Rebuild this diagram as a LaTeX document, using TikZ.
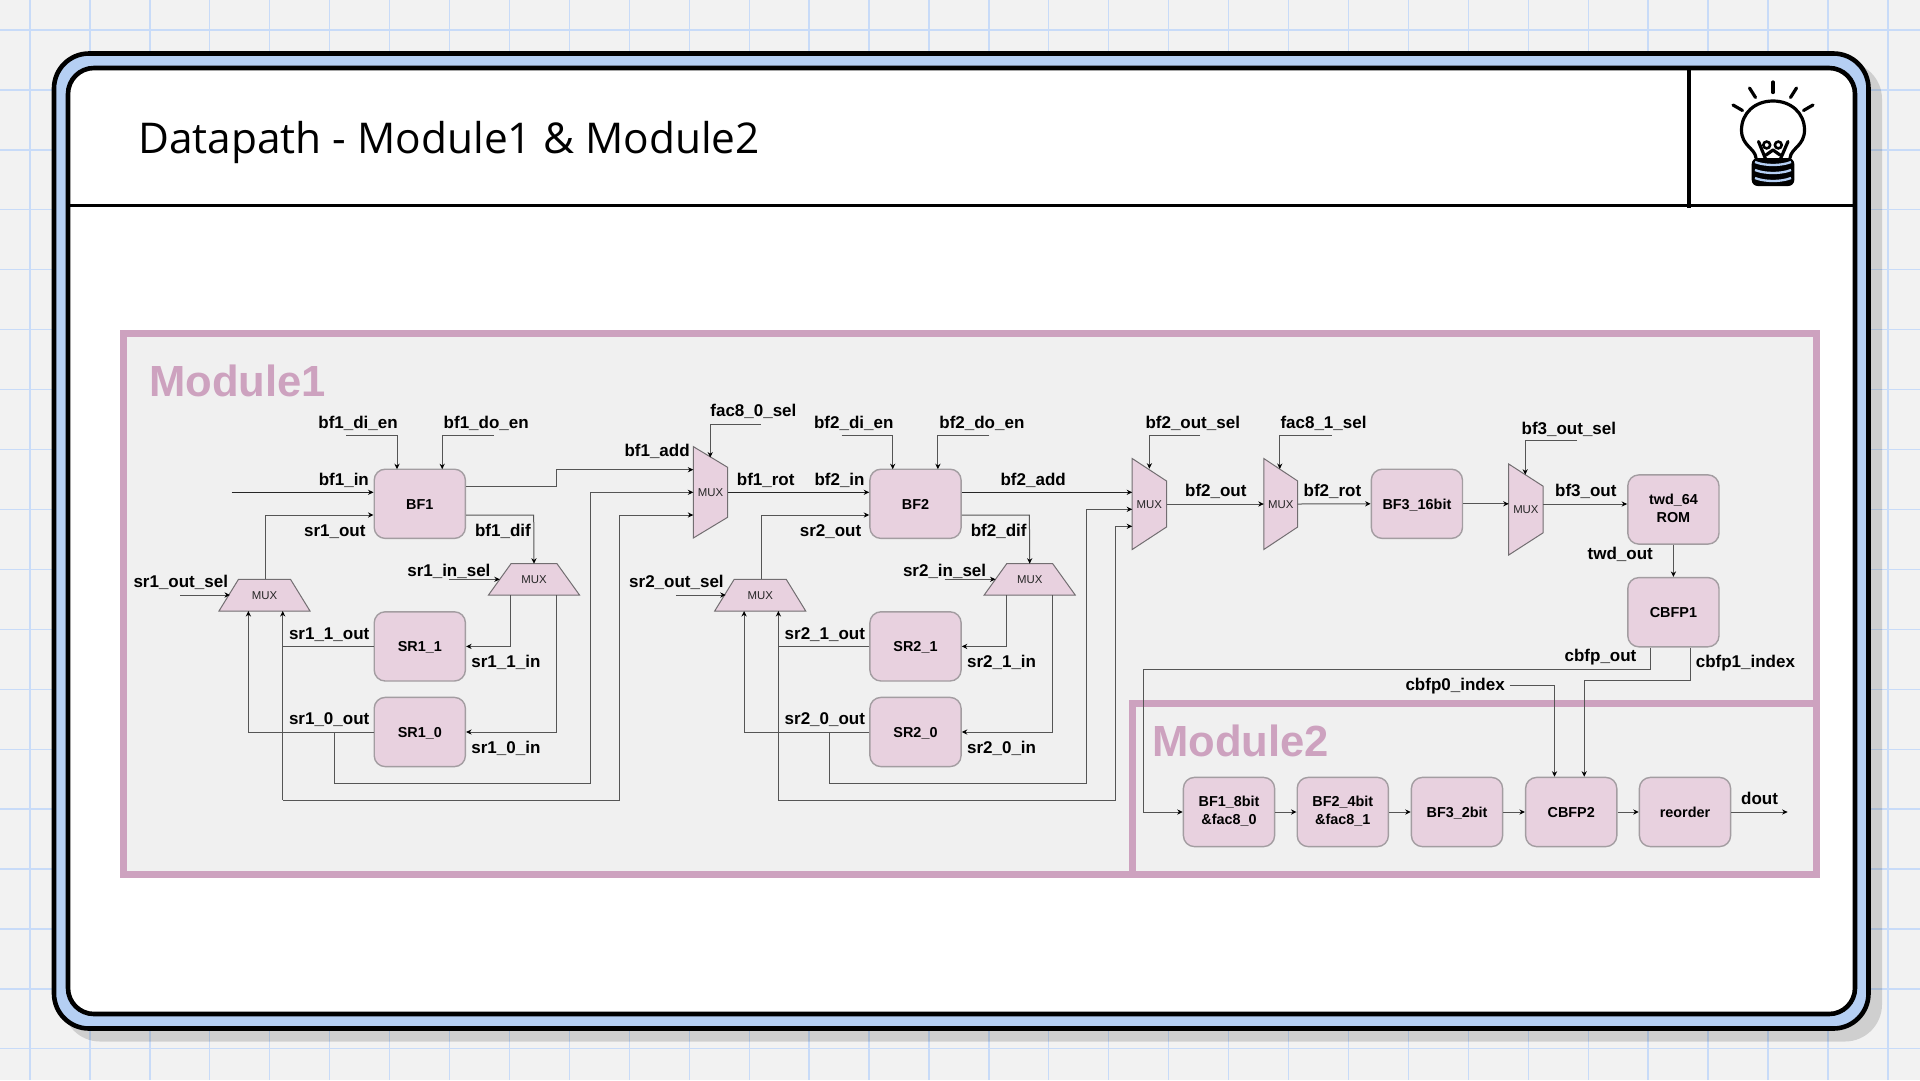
\documentclass[tikz,border=0pt]{standalone}
\usepackage{fontspec}
\setmainfont{Liberation Sans}
\newfontfamily\titlef{Open Sans}
\usetikzlibrary{arrows.meta,calc}
\definecolor{pagebg}{HTML}{F2F2F2}
\definecolor{gridc}{HTML}{C8DBF8}
\definecolor{cardblue}{HTML}{B5CFF3}
\definecolor{modc}{HTML}{CDA2BF}
\definecolor{modfill}{HTML}{F0F0F0}
\definecolor{boxfill}{HTML}{E8D1DF}
\definecolor{boxline}{HTML}{A39DA1}
\definecolor{wirec}{HTML}{555555}
\newcommand{\linestrut}{\rule[-3pt]{0pt}{16.5pt}}
\newcommand{\rowstrut}{\rule[-3pt]{0pt}{19.5pt}}
\tikzset{
  x=1pt,y=-1pt,
  modframe/.style={draw=modc,line width=7pt,fill=modfill,miter limit=10},
  modtitle/.style={anchor=base west,inner sep=0pt,text=modc,font=\fontsize{43.6}{50}\selectfont\bfseries},
  boxn/.style={draw=boxline,line width=1.4pt,fill=boxfill,rounded corners=11pt,minimum width=91.2pt,minimum height=69.2pt,inner sep=0pt,align=center,font=\fontsize{14.4}{18.4}\selectfont\bfseries,execute at begin node=\linestrut},
  tworow/.style={execute at begin node=\rowstrut},
  muxshape/.style={draw=boxline!70!black,line width=1pt,fill=boxfill},
  muxtext/.style={inner sep=0pt,text=black!85,font=\fontsize{11.4}{12}\selectfont},
  lab/.style={anchor=base west,inner sep=0pt,font=\fontsize{17}{20}\selectfont\bfseries},
  wire/.style={draw=wirec,line width=1pt,-{Stealth[length=5.5pt,width=5.2pt,black]}},
  wireplain/.style={draw=wirec,line width=1pt},
  bulbl/.style={draw=black,line width=3.2pt,line cap=round,line join=round}
}
% vertical mux: name, left x, right x, centre y, left half height, right half height
\newcommand{\vmuxshape}[6]{%
  \draw[muxshape] (#2,#4-#5) -- (#3,#4-#6) -- (#3,#4+#6) -- (#2,#4+#5) -- cycle;
  \node[muxtext] (#1) at ({(#2+#3)/2},#4+0.6) {MUX};
  \coordinate (#1-l) at (#2,#4);
  \coordinate (#1-r) at (#3,#4);}
% horizontal mux: name, centre x, top half width, bottom half width, top y, bottom y
\newcommand{\hmuxshape}[6]{%
  \draw[muxshape] (#2-#3,#5) -- (#2+#3,#5) -- (#2+#4,#6) -- (#2-#4,#6) -- cycle;
  \node[muxtext] (#1) at (#2,{(#5+#6)/2}) {MUX};
  \coordinate (#1-t) at (#2,#5);
  \coordinate (#1-b) at (#2,#6);}
\begin{document}
\begin{tikzpicture}
\path[use as bounding box] (0,0) rectangle (1920,1080);
\fill[pagebg] (0,0) rectangle (1920,1080);
\foreach \k in {0,...,31} \draw[gridc,line width=1.3pt] ({30+59.93*\k},0) -- ({30+59.93*\k},1080);
\foreach \k in {0,...,17} \draw[gridc,line width=1.3pt] (0,{30+59.93*\k}) -- (1920,{30+59.93*\k});
% card
\fill[black,opacity=.14,rounded corners=37pt] (63,62) rectangle (1882,1041.5);
\draw[draw=black,fill=cardblue,line width=4.6pt,rounded corners=35pt] (54,53.5) rectangle (1868.5,1028.5);
\draw[draw=black,fill=white,line width=4.6pt,rounded corners=26pt] (68,68) rectangle (1855,1014);
\draw[black,line width=3.6pt] (68,205.5) -- (1855,205.5);
\draw[black,line width=4pt] (1689,68) -- (1689,208);
\node[anchor=base west,inner sep=0pt,font=\fontsize{42.4}{50}\titlef] (title) at (138,153.6) {Datapath - Module1 \& Module2};
% bulb icon
\draw[bulbl] (1773,82) -- (1773,92.5);
\draw[bulbl] (1749.5,88) -- (1755.5,97.5);
\draw[bulbl] (1796.5,88) -- (1790.5,97.5);
\draw[bulbl] (1733,105) -- (1742.5,110.5);
\draw[bulbl] (1813,105) -- (1803.5,110.5);
\draw[bulbl,fill=white] (1756,158) .. controls (1755,148) and (1741.5,146) .. (1741.5,130) .. controls (1741.5,113) and (1755,101) .. (1773,101) .. controls (1791,101) and (1804.5,113) .. (1804.5,130) .. controls (1804.5,146) and (1791,148) .. (1790,158);
\draw[bulbl] (1758.5,141.5) -- (1766,160);
\draw[bulbl] (1788,141.5) -- (1780,160);
\draw[bulbl] (1766,155) -- (1773,150) -- (1780,155);
\draw[black,line width=2.6pt] (1766.7,145) circle (3.4);
\draw[black,line width=2.6pt] (1778.3,145) circle (3.4);
\fill[black,rounded corners=6pt] (1751.7,158) rectangle (1794.3,186);
\draw[cardblue,line width=2.3pt] (1755,162) .. controls (1765,166) and (1781,166) .. (1791,162);
\draw[cardblue,line width=2.3pt] (1755,170) .. controls (1765,174) and (1781,174) .. (1791,170);
\draw[cardblue,line width=2.3pt] (1755,178) .. controls (1765,182) and (1781,182) .. (1791,178);
% module frames
\draw[modframe] (123.5,333) rectangle (1816,874.5);
\draw[modframe] (1132.8,703.7) rectangle (1816,874.5);
\node[modtitle] (mod1) at (149,396.6) {Module1};
\node[modtitle] (mod2) at (1152,756.4) {Module2};
% repeated first and second stage
\foreach \n/\dx in {1/0,2/495.7}{
\begin{scope}[xshift=\dx pt]
 \node[boxn] (bf\n) at (419.8,503.8) {BF\n};
 \node[boxn] (sr\n a) at (419.8,646.4) {SR\n\_1};
 \node[boxn] (sr\n b) at (419.8,732) {SR\n\_0};
 \hmuxshape{mo\n}{264.5}{26}{45.5}{579.3}{611}
 \hmuxshape{mi\n}{534}{23}{45.5}{563.7}{595}
 \coordinate (di\n) at (346,435);
 \coordinate (do\n) at (493.7,435);
 \coordinate (os\n) at (180.2,595);
 \coordinate (is\n) at (448.8,579.3);
 \coordinate (osE\n) at (230,595);
 \coordinate (isE\n) at (499.8,579.3);
 \draw[wire] (di\n) -- (397,435) -- (397,469.2);
 \draw[wire] (do\n) -- (442.2,435) -- (442.2,469.2);
 \draw[wire] (os\n) -- (osE\n);
 \draw[wire] (is\n) -- (isE\n);
 \draw[wire] (mo\n-t -| 265.5,0) -- (265.5,515) -- (bf\n.west |- 0,515);
 \draw[wire] (bf\n.east |- 0,515) -- (533.7,515) -- (mi\n-t);
 \draw[wire] (510.8,595) -- (510.8,646.4) -- (sr\n a.east);
 \draw[wire] (556.5,595) -- (556.5,732) -- (sr\n b.east);
 \draw[wire] (sr\n b.west) -- (248.4,732) -- (248.4,611);
 \draw[wireplain] (sr\n a.west) -- (282.7,646.4);
 \node[lab] (l1\n) at (318.2,428.4) {bf\n\_di\_en};
 \node[lab] (l2\n) at (443.5,428.4) {bf\n\_do\_en};
 \node[lab] (l3\n) at (318.6,485) {bf\n\_in};
 \node[lab] (l4\n) at (303.9,536) {sr\n\_out};
 \node[lab] (l5\n) at (474.9,536) {bf\n\_dif};
 \node[lab] (l6\n) at (407.1,576) {sr\n\_in\_sel};
 \node[lab] (l7\n) at (133.3,587.7) {sr\n\_out\_sel};
 \node[lab] (l8\n) at (288.8,639.3) {sr\n\_1\_out};
 \node[lab] (l9\n) at (471.2,667.7) {sr\n\_1\_in};
 \node[lab] (l10\n) at (288.8,724.7) {sr\n\_0\_out};
 \node[lab] (l11\n) at (471.2,753.3) {sr\n\_0\_in};
\end{scope}}
% vertical muxes
\vmuxshape{mr}{693.3}{727.6}{492.3}{45.7}{25}
\vmuxshape{ma}{1132.2}{1166.5}{504}{45.5}{23}
\vmuxshape{mb}{1263.8}{1297.7}{504}{45.5}{23}
\vmuxshape{mc}{1508.7}{1543.1}{509.5}{45.5}{23.3}
% other boxes
\node[boxn] (bf3) at (1416.9,503.8) {BF3\_16bit};
\node[boxn,tworow] (twd) at (1673.4,509.5) {twd\_64\\ROM\rule[-3pt]{0pt}{0pt}};
\node[boxn] (cbfpa) at (1673.4,612.2) {CBFP1};
\node[boxn,tworow] (mb1) at (1229,812) {BF1\_8bit\\\&fac8\_0};
\node[boxn,tworow] (mb2) at (1342.8,812) {BF2\_4bit\\\&fac8\_1};
\node[boxn] (mb3) at (1457,812) {BF3\_2bit};
\node[boxn] (cbfpb) at (1571.2,812) {CBFP2};
\node[boxn] (mb5) at (1685,812) {reorder};
% free ends
\coordinate (inS) at (231.6,492.3);
\coordinate (f0S) at (760.8,424);
\coordinate (f0E) at (710.2,457.5);
\coordinate (bosS) at (1200,435);
\coordinate (bosE) at (1149.4,468.7);
\coordinate (f1S) at (1331.7,435);
\coordinate (f1E) at (1279.8,469);
\coordinate (b3S) at (1577,440.7);
\coordinate (b3E) at (1525.2,474.7);
\coordinate (doutE) at (1787.6,812);
\coordinate (c0S) at (1509.6,685.7);
% connectors, stage one
\draw[wire,draw=black!85] (inS) -- (bf1.west |- inS);
\draw[wire] (bf1.east |- 0,486.3) -- (556.5,486.3) -- (556.5,469.7) -- (mr-l |- 0,469.7);
\draw[wire] (334,732) -- (334,783.3) -- (590.8,783.3) -- (590.8,492.3) -- (mr-l);
\draw[wire] (619.4,515) -- (mr-l |- 0,515);
\draw[wireplain] (619.4,515) -- (619.4,800) -- (282.7,800);
\draw[wire] (282.7,800) -- (282.7,611);
\draw[wire] (f0S) -- (710.2,424) -- (f0E);
% connectors, stage two
\draw[wire,draw=black!85] (mr-r) -- (bf2.west |- mr-r);
\draw[wire,draw=black!85] (bf2.east |- 0,492.3) -- (ma-l |- 0,492.3);
\draw[wire] (829.7,732) -- (829.7,783.3) -- (1086.5,783.3) -- (1086.5,509.3) -- (ma-l |- 0,509.3);
\draw[wire] (778.4,800) -- (778.4,611);
\draw[wireplain] (778.4,800) -- (1115,800) -- (1115,526.3);
\draw[wire] (1115,526.3) -- (ma-l |- 0,526.3);
\draw[wire] (bosS) -- (1149.4,435) -- (bosE);
\draw[wire] (ma-r) -- (mb-l);
\draw[wire] (f1S) -- (1279.8,435) -- (f1E);
\draw[wire] (mb-r) -- (bf3.west);
\draw[wire] (bf3.east) -- (mc-l |- bf3.east);
\draw[wire] (b3S) -- (1525.2,440.7) -- (b3E);
\draw[wire] (mc-r |- 0,504) -- (twd.west |- 0,504);
\draw[wire] (twd.south) -- (cbfpa.north);
\draw[wire] (cbfpa.south -| 1650.7,0) -- (1650.7,669.3) -- (1143.9,669.3) -- (1143.9,812) -- (mb1.west);
\draw[wire] (cbfpa.south -| 1690.4,0) -- (1690.4,680.7) -- (1584.2,680.7) -- (cbfpb.north -| 1584.2,0);
\draw[wire] (c0S) -- (1554.5,685.7) -- (cbfpb.north -| 1554.5,0);
\draw[wire] (mb1) -- (mb2);
\draw[wire] (mb2) -- (mb3);
\draw[wire] (mb3) -- (cbfpb);
\draw[wire] (cbfpb) -- (mb5);
\draw[wire] (mb5) -- (doutE);
% labels
\node[lab] (a1) at (624.3,456) {bf1\_add};
\node[lab] (a2) at (710.2,416.7) {fac8\_0\_sel};
\node[lab] (a3) at (736.7,485) {bf1\_rot};
\node[lab] (a4) at (1000.4,485) {bf2\_add};
\node[lab] (a5) at (1145.3,428.4) {bf2\_out\_sel};
\node[lab] (a6) at (1184.9,496) {bf2\_out};
\node[lab] (a7) at (1280.3,428.4) {fac8\_1\_sel};
\node[lab] (a8) at (1303.4,496) {bf2\_rot};
\node[lab] (a9) at (1521.4,434.2) {bf3\_out\_sel};
\node[lab] (a10) at (1554.9,496) {bf3\_out};
\node[lab] (a11) at (1587.5,559) {twd\_out};
\node[lab] (a12) at (1564.4,661.7) {cbfp\_out};
\node[lab] (a13) at (1695.6,667.7) {cbfp1\_index};
\node[lab] (a14) at (1405.3,690) {cbfp0\_index};
\node[lab] (a15) at (1740.9,804.3) {dout};
\end{tikzpicture}
\end{document}
